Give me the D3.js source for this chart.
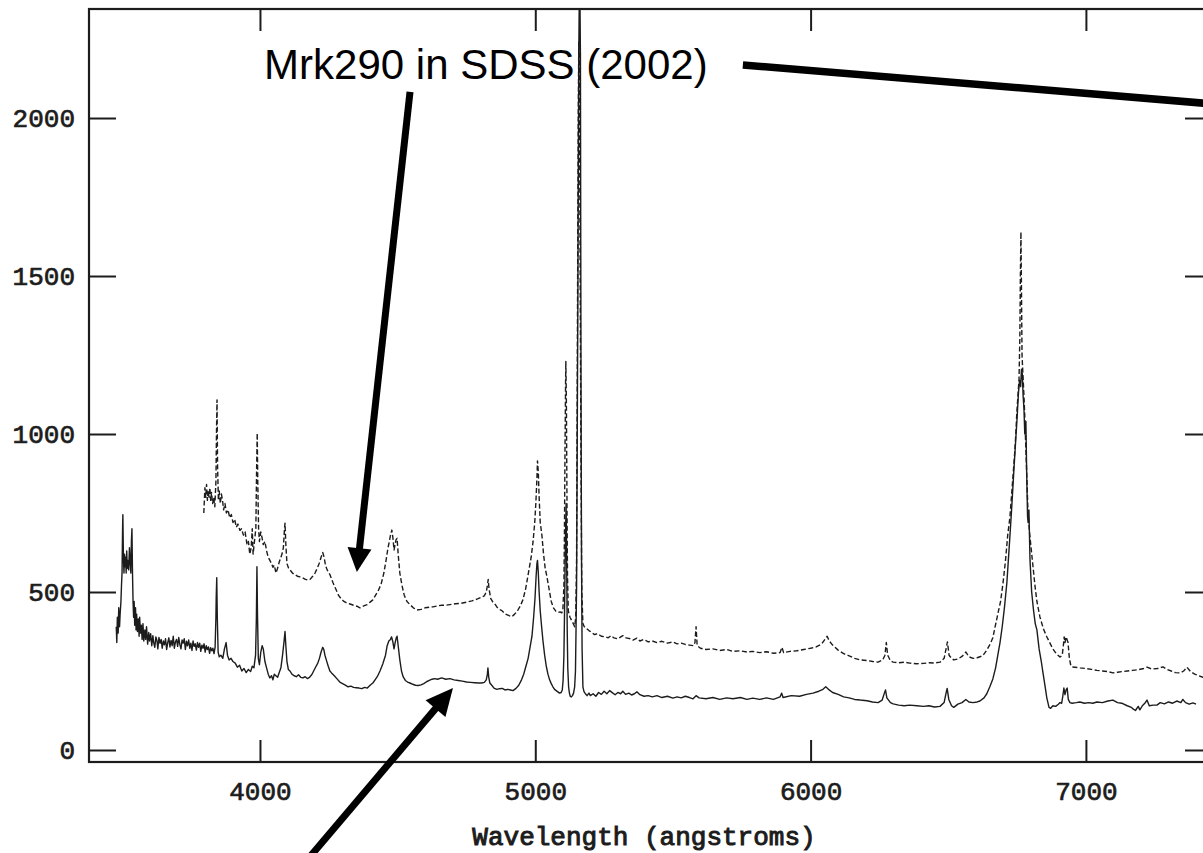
<!DOCTYPE html>
<html>
<head>
<meta charset="utf-8">
<script src="https://cdn.jsdelivr.net/npm/d3@7"></script>
<style>
  html, body { margin: 0; padding: 0; background: #fff; overflow: hidden; }
  svg { display: block; }
</style>
</head>
<body>
<svg id="chart" width="1203" height="853"></svg>
<script>
// Axis ticks
const wavelengthTicks = [4000, 5000, 6000, 7000];
const fluxTicks = [0, 500, 1000, 1500, 2000];

// Mrk290, SDSS spectrum (2002): [wavelength in angstroms, flux]
const spectrumSDSS = [
  [3796,750],[3800,830],[3803,800],[3806,840],[3809,790],[3812,820],[3815,800],[3818,830],[3821,790],[3824,815],
  [3828,780],[3832,800],[3836,770],[3840,850],[3842,1000],[3844,1108],[3846,900],[3849,790],[3852,820],[3856,780],
  [3860,810],[3864,790],[3868,760],[3873,780],[3878,750],[3884,760],[3890,735],[3896,745],[3902,720],[3908,730],
  [3914,705],[3920,715],[3927,695],[3933,700],[3940,680],[3946,690],[3953,650],[3958,660],[3963,620],[3968,640],
  [3972,700],[3975,620],[3980,660],[3985,700],[3988,900],[3990,1003],[3992,850],[3995,700],[3998,660],[4003,690],
  [4008,670],[4012,650],[4018,660],[4024,630],[4030,610],[4036,600],[4042,590],[4047,578],[4052,585],[4058,560],
  [4064,575],[4070,595],[4076,610],[4080,620],[4085,640],[4089,700],[4091,718],[4094,650],[4098,590],[4104,575],
  [4109,570],[4118,560],[4127,555],[4136,550],[4145,548],[4155,545],[4165,540],[4175,538],[4182,540],[4190,548],
  [4200,560],[4208,575],[4215,590],[4222,610],[4228,625],[4233,610],[4238,585],[4244,570],[4254,555],[4265,530],
  [4275,510],[4285,490],[4295,478],[4305,470],[4315,465],[4327,462],[4340,458],[4352,455],[4363,450],[4375,455],
  [4389,460],[4400,468],[4410,475],[4420,490],[4430,505],[4440,525],[4450,560],[4458,600],[4465,640],[4470,660],
  [4474,680],[4479,696],[4483,670],[4487,633],[4491,650],[4494,665],[4498,670],[4502,620],[4508,560],[4516,520],
  [4524,490],[4534,470],[4545,460],[4557,450],[4570,443],[4585,445],[4600,450],[4615,452],[4628,453],[4645,456],
  [4660,458],[4675,458],[4690,460],[4710,463],[4730,464],[4752,468],[4770,472],[4790,478],[4805,484],[4815,488],
  [4822,500],[4826,520],[4829,540],[4832,510],[4838,480],[4846,468],[4855,460],[4861,452],[4870,445],[4880,440],
  [4892,430],[4905,425],[4915,422],[4925,430],[4935,440],[4945,455],[4955,475],[4965,510],[4975,560],[4985,610],
  [4992,660],[4998,720],[5002,780],[5006,860],[5008,915],[5011,880],[5014,800],[5018,720],[5024,680],[5030,620],
  [5036,575],[5042,550],[5050,510],[5058,470],[5066,450],[5074,440],[5082,435],[5090,437],[5096,434],[5100,440],
  [5104,520],[5106,700],[5108,950],[5110,1160],[5111,1230],[5113,1100],[5115,800],[5117,550],[5120,440],[5126,420],
  [5132,410],[5138,400],[5143,390],[5147,420],[5150,600],[5153,1300],[5156,2000],[5158,2240],[5160,2200],[5163,1500],
  [5166,900],[5169,500],[5173,400],[5178,390],[5185,385],[5195,378],[5205,372],[5215,365],[5225,368],[5240,360],
  [5255,358],[5265,355],[5275,362],[5285,355],[5300,352],[5318,362],[5330,355],[5345,352],[5355,348],[5369,354],
  [5380,345],[5395,350],[5410,342],[5425,345],[5442,340],[5460,344],[5480,338],[5500,342],[5515,336],[5530,338],
  [5545,334],[5560,332],[5575,330],[5580,340],[5584,390],[5588,330],[5600,322],[5620,318],[5645,320],[5670,315],
  [5695,318],[5718,312],[5745,314],[5769,310],[5790,312],[5815,308],[5840,311],[5865,306],[5889,308],[5896,325],
  [5902,308],[5925,312],[5950,314],[5975,318],[6000,322],[6020,326],[6040,335],[6052,350],[6060,360],[6068,345],
  [6080,332],[6100,316],[6120,305],[6140,298],[6160,290],[6180,285],[6205,283],[6226,280],[6245,278],[6262,285],
  [6270,300],[6275,340],[6280,300],[6290,282],[6300,278],[6320,276],[6340,278],[6360,275],[6386,273],[6410,274],
  [6430,276],[6450,275],[6470,278],[6485,290],[6492,320],[6497,342],[6503,300],[6512,290],[6520,285],[6535,288],
  [6550,296],[6564,310],[6575,295],[6590,290],[6605,292],[6615,295],[6625,298],[6640,316],[6652,335],[6662,355],
  [6670,389],[6680,430],[6690,470],[6699,529],[6708,600],[6716,680],[6724,737],[6732,830],[6738,900],[6742,949],
  [6746,1010],[6749,1067],[6753,1120],[6757,1171],[6760,1300],[6762,1500],[6764,1639],[6766,1450],[6768,1250],[6771,1193],
  [6775,1120],[6778,1054],[6782,950],[6786,850],[6789,769],[6795,690],[6802,630],[6808,579],[6815,520],[6822,470],
  [6833,421],[6845,385],[6857,360],[6869,339],[6880,320],[6892,305],[6906,294],[6914,300],[6918,330],[6921,358],
  [6924,340],[6928,358],[6932,348],[6935,340],[6940,290],[6945,268],[6949,263],[6960,262],[6978,260],[7000,258],
  [7020,255],[7040,252],[7060,250],[7080,248],[7098,244],[7115,246],[7130,248],[7150,250],[7170,252],[7190,254],
  [7210,258],[7222,262],[7240,256],[7260,258],[7280,263],[7295,255],[7310,250],[7325,245],[7342,244],[7355,250],
  [7367,262],[7380,248],[7395,240],[7410,235],[7425,230],[7445,228]
];

// Mrk290, second-epoch spectrum: [wavelength in angstroms, flux]
const spectrumSecond = [
  [3478,390],[3480,340],[3482,420],[3485,370],[3487,450],[3490,390],[3492,430],[3495,470],[3497,520],[3499,560],
  [3501,700],[3502,745],[3504,610],[3506,560],[3508,620],[3510,580],[3512,610],[3514,560],[3516,630],[3518,575],
  [3520,600],[3523,570],[3526,640],[3528,600],[3531,560],[3533,660],[3535,700],[3537,560],[3539,470],[3541,420],
  [3543,470],[3545,395],[3548,450],[3550,380],[3552,430],[3555,375],[3558,415],[3561,360],[3563,420],[3566,370],
  [3569,395],[3572,350],[3575,400],[3578,345],[3582,380],[3585,350],[3588,390],[3592,335],[3596,372],[3599,345],
  [3603,368],[3607,330],[3611,362],[3614,340],[3618,325],[3622,358],[3626,345],[3629,320],[3633,356],[3637,338],
  [3641,350],[3645,322],[3649,345],[3653,333],[3657,352],[3661,318],[3665,340],[3669,355],[3673,326],[3677,347],
  [3681,330],[3685,360],[3689,322],[3693,342],[3697,350],[3701,328],[3705,356],[3709,334],[3713,320],[3717,348],
  [3721,338],[3725,352],[3729,318],[3733,344],[3737,330],[3741,348],[3745,322],[3749,338],[3753,315],[3757,345],
  [3761,328],[3765,336],[3769,316],[3773,340],[3777,325],[3781,338],[3785,312],[3789,332],[3793,322],[3797,336],
  [3801,310],[3805,330],[3809,318],[3813,326],[3817,306],[3821,324],[3825,314],[3829,322],[3833,305],[3837,325],
  [3840,420],[3841,480],[3843,545],[3845,420],[3848,310],[3852,295],[3858,300],[3865,290],[3871,320],[3877,340],
  [3882,300],[3888,285],[3895,290],[3902,280],[3910,275],[3918,262],[3926,268],[3934,250],[3942,258],[3950,245],
  [3958,255],[3966,248],[3972,265],[3978,260],[3984,300],[3987,420],[3989,580],[3991,430],[3994,290],[3998,270],
  [4003,310],[4008,330],[4012,320],[4018,280],[4024,260],[4030,240],[4036,228],[4042,235],[4047,222],[4052,240],
  [4058,235],[4064,230],[4070,245],[4076,260],[4082,300],[4087,340],[4091,375],[4094,330],[4098,280],[4103,255],
  [4109,250],[4116,240],[4124,235],[4132,232],[4140,238],[4148,230],[4156,228],[4164,232],[4172,226],[4180,230],
  [4188,238],[4195,250],[4202,262],[4210,275],[4216,290],[4222,310],[4228,325],[4232,318],[4236,300],[4242,282],
  [4248,265],[4254,250],[4260,244],[4270,235],[4280,225],[4290,215],[4300,210],[4310,205],[4320,200],[4330,202],
  [4340,198],[4350,197],[4360,196],[4370,194],[4380,198],[4390,196],[4400,205],[4410,212],[4418,222],[4426,232],
  [4436,250],[4446,272],[4456,300],[4462,330],[4468,345],[4474,350],[4478,358],[4482,345],[4487,320],[4491,340],
  [4495,355],[4498,360],[4502,330],[4508,285],[4514,250],[4520,232],[4528,220],[4536,215],[4545,212],[4555,208],
  [4565,205],[4575,204],[4585,206],[4595,210],[4605,216],[4615,220],[4625,224],[4635,226],[4645,224],[4660,228],
  [4675,224],[4690,226],[4705,222],[4720,220],[4735,218],[4750,215],[4765,214],[4780,213],[4795,212],[4805,212],
  [4815,214],[4822,222],[4826,240],[4828,260],[4831,230],[4835,212],[4842,205],[4850,196],[4860,192],[4870,194],
  [4880,195],[4890,190],[4900,192],[4910,190],[4919,188],[4930,195],[4940,205],[4950,222],[4958,240],[4966,265],
  [4974,290],[4982,330],[4988,360],[4994,420],[4999,480],[5003,550],[5006,590],[5008,600],[5011,560],[5014,500],
  [5018,440],[5023,390],[5028,345],[5034,300],[5040,265],[5046,240],[5052,222],[5058,210],[5064,200],[5070,192],
  [5076,188],[5082,184],[5088,180],[5094,182],[5098,190],[5101,220],[5104,300],[5106,420],[5108,560],[5110,690],
  [5112,780],[5114,600],[5116,380],[5118,260],[5121,200],[5124,180],[5127,170],[5131,168],[5135,172],[5139,180],
  [5143,200],[5146,250],[5148,380],[5150,520],[5152,900],[5155,1500],[5158,2200],[5161,2500],[5164,2200],[5166,1200],
  [5168,600],[5170,320],[5173,200],[5177,185],[5182,178],[5188,172],[5195,180],[5200,172],[5210,178],[5220,170],
  [5230,182],[5240,176],[5250,186],[5260,178],[5270,188],[5282,180],[5290,175],[5300,182],[5310,178],[5318,186],
  [5328,176],[5340,180],[5350,174],[5360,178],[5369,184],[5380,175],[5395,170],[5410,172],[5425,168],[5442,172],
  [5460,166],[5480,170],[5500,164],[5515,168],[5530,165],[5545,170],[5560,166],[5573,162],[5584,172],[5595,165],
  [5620,162],[5645,166],[5670,160],[5695,165],[5718,162],[5745,166],[5769,160],[5790,164],[5815,160],[5840,165],
  [5865,160],[5889,168],[5895,180],[5900,166],[5930,172],[5960,170],[5985,176],[6009,180],[6030,186],[6045,192],
  [6055,200],[6065,192],[6080,182],[6100,176],[6120,168],[6140,165],[6160,160],[6180,158],[6205,156],[6225,152],
  [6245,150],[6260,158],[6268,180],[6272,190],[6277,165],[6290,150],[6300,146],[6320,142],[6340,140],[6360,142],
  [6386,140],[6410,138],[6430,140],[6450,136],[6470,138],[6485,150],[6492,180],[6496,195],[6502,160],[6512,140],
  [6520,135],[6535,145],[6550,150],[6564,160],[6575,152],[6590,150],[6605,152],[6615,155],[6630,165],[6640,178],
  [6651,200],[6662,225],[6672,260],[6680,300],[6688,340],[6696,390],[6704,450],[6713,530],[6722,650],[6730,760],
  [6738,880],[6745,980],[6750,1050],[6755,1130],[6759,1170],[6763,1150],[6766,1205],[6769,1190],[6772,1120],[6775,1080],
  [6778,1000],[6782,1040],[6785,870],[6788,740],[6790,720],[6793,760],[6797,600],[6803,500],[6810,440],[6816,400],
  [6822,380],[6830,320],[6838,280],[6844,245],[6852,200],[6858,165],[6862,150],[6866,135],[6872,132],[6880,140],
  [6890,138],[6900,145],[6906,150],[6912,148],[6916,170],[6920,196],[6924,175],[6928,190],[6932,196],[6936,160],
  [6942,150],[6950,148],[6965,150],[6978,152],[6995,148],[7010,150],[7025,148],[7040,152],[7060,150],[7080,155],
  [7098,158],[7115,150],[7130,148],[7150,140],[7165,135],[7171,130],[7180,125],[7190,138],[7196,127],[7205,140],
  [7214,148],[7222,158],[7230,140],[7245,142],[7258,142],[7270,150],[7285,146],[7300,152],[7315,148],[7330,155],
  [7345,150],[7352,160],[7362,150],[7375,145],[7389,149],[7400,145]
];

// Annotation anchors, in data units
const labelText = "Mrk290 in SDSS (2002)";
const labelAnchor = [4015, 2124];
const arrowToSDSS = { from: [4545, 2083], to: [4352, 563] };
const arrowOffChart = { from: [5754, 2168], to: [7800, 2020] };
const arrowToSecond = { from: [4160, -360], to: [4701, 196] };

const svg = d3.select("#chart");
const margin = { left: 89, top: 9, right: -9, bottom: 91 };
const W = 1203, H = 853;
const x0 = margin.left, x1 = W - margin.right, y0 = margin.top, y1 = H - margin.bottom;

const x = d3.scaleLinear().domain([3379, 7458]).range([x0, x1]);
const y = d3.scaleLinear().domain([-38, 2345]).range([y1, y0]);

const ink = "#1c1c1c";
const tickFont = "'Liberation Mono', 'Courier New', monospace";

svg.append("rect").attr("width", W).attr("height", H).attr("fill", "#fff");

svg.append("defs").append("clipPath").attr("id", "plotClip")
  .append("rect").attr("x", x0).attr("y", y0).attr("width", x1 - x0).attr("height", y1 - y0);

// Spectra
const line = d3.line().x(d => x(d[0])).y(d => y(d[1]));
const spectra = svg.append("g").attr("clip-path", "url(#plotClip)");
spectra.append("path").datum(spectrumSecond)
  .attr("d", line).attr("fill", "none").attr("stroke", ink)
  .attr("stroke-width", 1.4).attr("stroke-linejoin", "round");
spectra.append("path").datum(spectrumSDSS)
  .attr("d", line).attr("fill", "none").attr("stroke", ink)
  .attr("stroke-width", 1.4).attr("stroke-dasharray", "5,2.5").attr("stroke-linejoin", "round");

// Axes with inward ticks on all four sides
function styleAxis(g) {
  g.select(".domain").remove();
  g.selectAll(".tick line").attr("stroke", ink).attr("stroke-width", 2);
  g.selectAll(".tick text")
    .attr("fill", ink)
    .attr("stroke", ink)
    .attr("stroke-width", 0.7)
    .style("font-family", tickFont)
    .style("font-size", "26px");
}
svg.append("g").attr("transform", `translate(0,${y1})`)
  .call(d3.axisBottom(x).tickValues(wavelengthTicks).tickSizeInner(-22).tickSizeOuter(0).tickPadding(20).tickFormat(d3.format("d")))
  .call(styleAxis);
svg.append("g").attr("transform", `translate(0,${y0})`)
  .call(d3.axisTop(x).tickValues(wavelengthTicks).tickSizeInner(-22).tickSizeOuter(0).tickFormat(""))
  .call(styleAxis);
svg.append("g").attr("transform", `translate(${x0},0)`)
  .call(d3.axisLeft(y).tickValues(fluxTicks).tickSizeInner(-27).tickSizeOuter(0).tickPadding(14).tickFormat(d3.format("d")))
  .call(styleAxis);
svg.append("g").attr("transform", `translate(${x1},0)`)
  .call(d3.axisRight(y).tickValues(fluxTicks).tickSizeInner(-27).tickSizeOuter(0).tickFormat(""))
  .call(styleAxis);

// Frame
svg.append("rect")
  .attr("x", x0).attr("y", y0).attr("width", x1 - x0).attr("height", y1 - y0)
  .attr("fill", "none").attr("stroke", ink).attr("stroke-width", 2.2);

// Axis title
svg.append("text")
  .attr("x", 644).attr("y", 845)
  .attr("text-anchor", "middle")
  .attr("fill", ink)
  .attr("stroke", ink)
  .attr("stroke-width", 1)
  .style("font-family", tickFont)
  .style("font-size", "26px")
  .text("Wavelength (angstroms)");

// Annotation label
svg.append("text")
  .attr("x", x(labelAnchor[0])).attr("y", y(labelAnchor[1]))
  .attr("fill", "#000")
  .style("font-family", "'Liberation Sans', Arial, sans-serif")
  .style("font-size", "42px")
  .text(labelText);

// Annotation arrows
function arrow(a, width, headLen, headHalf, withHead) {
  const sx = x(a.from[0]), sy = y(a.from[1]);
  const tx = x(a.to[0]), ty = y(a.to[1]);
  const dx = tx - sx, dy = ty - sy, len = Math.hypot(dx, dy);
  const ux = dx / len, uy = dy / len;
  const bx = withHead ? tx - ux * headLen : tx, by = withHead ? ty - uy * headLen : ty;
  svg.append("line")
    .attr("x1", sx).attr("y1", sy).attr("x2", bx + ux * 2).attr("y2", by + uy * 2)
    .attr("stroke", "#000").attr("stroke-width", width);
  if (withHead) {
    const px = -uy, py = ux;
    svg.append("path")
      .attr("d", `M${tx},${ty}L${bx + px * headHalf},${by + py * headHalf}L${bx - px * headHalf},${by - py * headHalf}Z`)
      .attr("fill", "#000");
  }
}
arrow(arrowToSDSS, 7, 24, 12, true);
arrow(arrowOffChart, 7.5, 0, 0, false);
arrow(arrowToSecond, 7, 27, 13, true);
</script>
</body>
</html>
